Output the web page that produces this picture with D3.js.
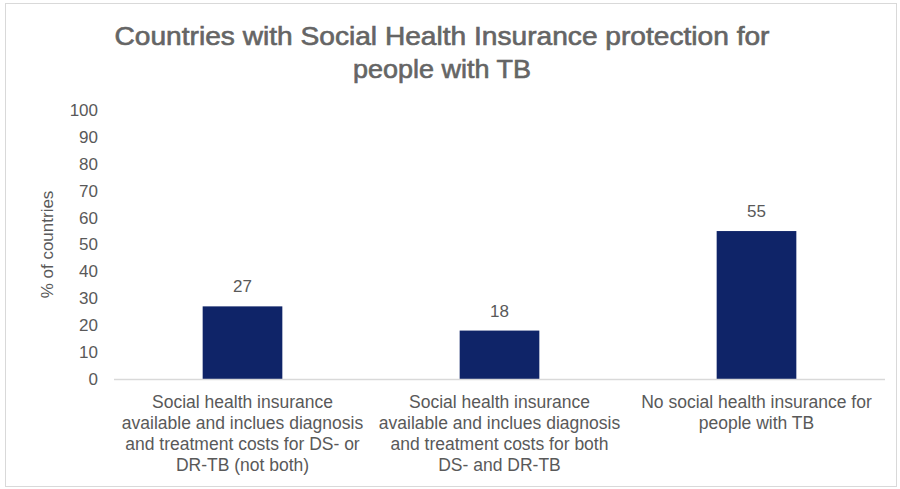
<!DOCTYPE html>
<html>
<head>
<meta charset="utf-8">
<script src="https://cdn.jsdelivr.net/npm/d3@7"></script>
<style>
  body { margin: 0; background: #fff; }
  svg { display: block; }
</style>
</head>
<body>
<div id="chart"></div>
<script>
const categories = [
  ["Social health insurance", "available and inclues diagnosis", "and treatment costs for DS- or", "DR-TB (not both)"],
  ["Social health insurance", "available and inclues diagnosis", "and treatment costs for both", "DS- and DR-TB"],
  ["No social health insurance for", "people with TB"]
];
const values = [27, 18, 55];
const yTicks = [0, 10, 20, 30, 40, 50, 60, 70, 80, 90, 100];
const titleLines = ["Countries with Social Health Insurance protection for", "people with TB"];
const titleWidths = [655, 178];

const width = 900, height = 489;
const margin = {top: 110, bottom: 110, left: 114, right: 15};
const grey = "#595959";

const svg = d3.select('#chart').append('svg')
  .attr('width', width)
  .attr('height', height);

svg.append('rect')
  .attr('x', 5.5).attr('y', 3.5)
  .attr('width', 891).attr('height', 483)
  .attr('fill', '#fff')
  .attr('stroke', '#d9d9d9');

const x = d3.scaleBand()
  .domain(d3.range(values.length))
  .range([margin.left, width - margin.right])
  .paddingInner(0.69)
  .paddingOuter(0.345);

const y = d3.scaleLinear()
  .domain([0, 100])
  .range([379, 110]);

// title (medium weight look: regular glyphs plus a thin stroke)
const title = svg.append('text')
  .attr('text-anchor', 'middle')
  .attr('fill', '#656565')
  .attr('stroke', '#656565')
  .attr('stroke-width', 0.6)
  .style('font-family', '"Liberation Sans", Arial, sans-serif')
  .style('font-size', '25px');
title.selectAll('tspan')
  .data(titleLines)
  .enter().append('tspan')
    .attr('x', 442)
    .attr('y', (d, i) => 45 + i * 33)
    .attr('textLength', (d, i) => titleWidths[i])
    .attr('lengthAdjust', 'spacingAndGlyphs')
    .text(d => d);

// y axis
const yAxis = svg.append('g')
  .attr('transform', 'translate(' + margin.left + ',0)')
  .call(d3.axisLeft(y).tickValues(yTicks).tickSize(0).tickPadding(16));
yAxis.select('.domain').remove();
yAxis.selectAll('text')
  .attr('fill', grey)
  .style('font-family', '"Liberation Sans", Arial, sans-serif')
  .style('font-size', '17px');

svg.append('text')
  .attr('transform', 'translate(53,' + y(50) + ') rotate(-90)')
  .attr('text-anchor', 'middle')
  .attr('fill', grey)
  .style('font-family', '"Liberation Sans", Arial, sans-serif')
  .style('font-size', '17px')
  .text('% of countries');

// bars
svg.selectAll('rect.bar')
  .data(values)
  .enter().append('rect')
    .attr('class', 'bar')
    .attr('x', (d, i) => x(i))
    .attr('y', d => y(d))
    .attr('width', x.bandwidth())
    .attr('height', d => y(0) - y(d))
    .attr('fill', '#0f2468');

svg.selectAll('text.val')
  .data(values)
  .enter().append('text')
    .attr('class', 'val')
    .attr('x', (d, i) => x(i) + x.bandwidth() / 2)
    .attr('y', d => y(d) - 14)
    .attr('text-anchor', 'middle')
    .attr('fill', grey)
    .style('font-family', '"Liberation Sans", Arial, sans-serif')
    .style('font-size', '17px')
    .text(d => d);

// baseline
svg.append('line')
  .attr('x1', margin.left).attr('x2', width - margin.right)
  .attr('y1', y(0) + 0.5).attr('y2', y(0) + 0.5)
  .attr('stroke', '#d9d9d9')
  .attr('stroke-width', 1.5);

// category labels
const cat = svg.selectAll('text.cat')
  .data(categories)
  .enter().append('text')
    .attr('class', 'cat')
    .attr('text-anchor', 'middle')
    .attr('fill', grey)
    .style('font-family', '"Liberation Sans", Arial, sans-serif')
    .style('font-size', '17.5px');
cat.each(function(lines, i) {
  d3.select(this).selectAll('tspan')
    .data(lines)
    .enter().append('tspan')
      .attr('x', x(i) + x.bandwidth() / 2)
      .attr('y', (d, j) => 408 + j * 21)
      .text(d => d);
});
</script>
</body>
</html>
